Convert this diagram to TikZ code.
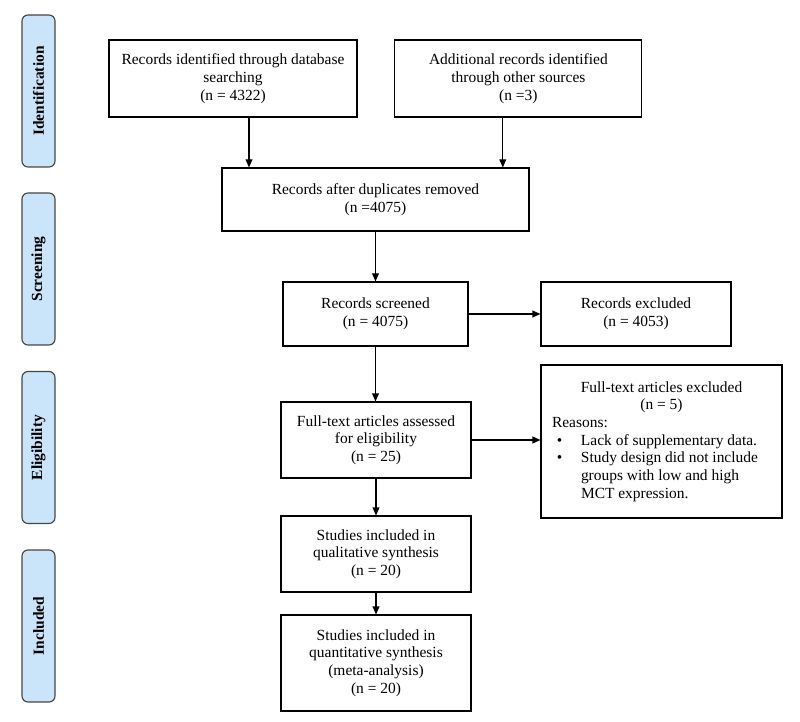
\documentclass[tikz,border=0pt]{standalone}
\usepackage{fontspec}
\setmainfont{Liberation Serif}
\usetikzlibrary{arrows.meta}

\definecolor{barblue}{RGB}{202,229,250}
\definecolor{bargray}{RGB}{70,70,70}

\begin{document}
\begin{tikzpicture}[
  box/.style={draw, line width=0.8pt, inner sep=0pt, align=center,
    font=\fontsize{11}{12.6}\selectfont},
  phase/.style={draw=bargray, fill=barblue, line width=0.8pt, rounded corners=1.5mm,
    rotate=90, minimum width=3.8cm, minimum height=0.825cm, inner sep=0pt,
    font=\fontsize{11}{12.6}\selectfont\bfseries},
  arr/.style={line width=0.8pt, -{Triangle[length=2mm,width=1.7mm]}}
]
\useasboundingbox (0,0) rectangle (20,-18.05);

% Phase bars (left)
\foreach \lbl/\ypos/\nm in {Identification/-2.275/ident, Screening/-6.725/screen,
    Eligibility/-11.1875/elig, Included/-15.65/incl} {
  \node[phase] (\nm) at (0.9625,\ypos) {\lbl};
}

% Identification
\node[box, minimum width=6.2cm, minimum height=1.925cm] (db) at (5.825,-1.9625)
  {Records identified through database\\ searching\\ (n = 4322)};
\node[box, minimum width=6.175cm, minimum height=1.925cm] (other) at (12.96,-1.9625)
  {Additional records identified\\ through other sources\\ (n =3)};

% Screening
\node[box, minimum width=7.675cm, minimum height=1.575cm] (dedup) at (9.3875,-4.9875)
  {Records after duplicates removed\\ (n =4075)};
\node[box, minimum width=4.625cm, minimum height=1.6cm] (screened) at (9.3875,-7.85)
  {Records screened\\ (n = 4075)};
\node[box, minimum width=4.75cm, minimum height=1.6cm] (recexcl) at (15.9,-7.85)
  {Records excluded\\ (n = 4053)};

% Eligibility
\node[box, minimum width=4.75cm, minimum height=1.9cm] (assessed) at (9.4,-11.0)
  {Full-text articles assessed\\ for eligibility\\ (n = 25)};
\node[box, minimum width=6.025cm, minimum height=3.825cm] (ftexcl) at (16.5375,-11.0375)
  {Full-text articles excluded\\ (n = 5)\\
   \parbox[t]{5.475cm}{\raggedright Reasons:\\
   \hspace*{0.12cm}\makebox[0.605cm][l]{\textbullet}Lack of supplementary data.\\
   \hspace*{0.12cm}\makebox[0.605cm][l]{\textbullet}Study design did not include\\
   \hspace*{0.725cm}groups with low and high\\
   \hspace*{0.725cm}MCT expression.}};

% Included
\node[box, minimum width=4.75cm, minimum height=1.9cm] (qual) at (9.4,-13.85)
  {Studies included in\\ qualitative synthesis\\ (n = 20)};
\node[box, minimum width=4.75cm, minimum height=2.4cm] (quant) at (9.4,-16.575)
  {Studies included in\\ quantitative synthesis\\ (meta-analysis)\\ (n = 20)};

% Connectors
\draw[arr] ([xshift=0.4cm]db.south) -- ([xshift=0.4cm]db.south |- dedup.north);
\draw[arr] ([xshift=-0.39cm]other.south) -- ([xshift=-0.39cm]other.south |- dedup.north);
\draw[arr] (dedup.south) -- (dedup.south |- screened.north);
\draw[arr] (screened.east) -- (recexcl.west);
\draw[arr] (screened.south) -- (screened.south |- assessed.north);
\draw[arr] (assessed.east) -- (assessed.east -| ftexcl.west);
\draw[arr] (assessed.south) -- (qual.north);
\draw[arr] (qual.south) -- (quant.north);
\end{tikzpicture}
\end{document}
